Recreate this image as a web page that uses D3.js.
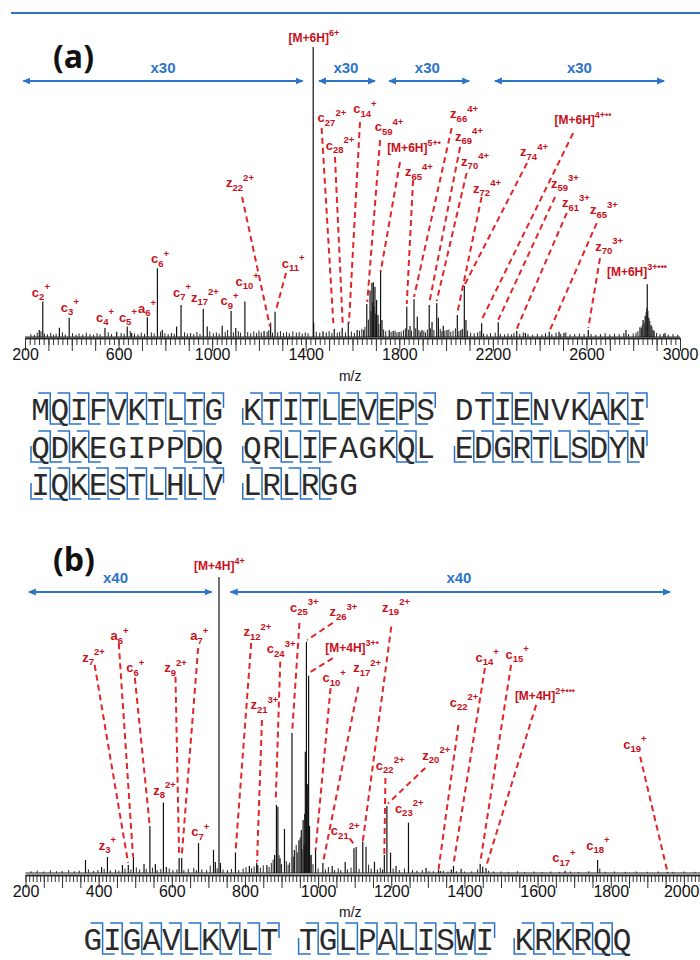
<!DOCTYPE html>
<html><head><meta charset="utf-8">
<script src="https://cdn.jsdelivr.net/npm/d3@7"></script>
<style>body{margin:0;background:#fff}svg{display:block}</style>
</head><body>
<svg id="chart" width="700" height="960"></svg>
<script>
// ---------------- DATA ----------------
// Panel (a): labelled / main peaks [m/z, relative intensity %]
const topPeaks = [[261,2.4],[276,12.2],[347,3.2],[389,6.6],[542,3.1],[592,1.8],[637,3.6],[656,1.4],[723,6.8],[766,23.7],[787,2.4],[848,3.6],[867,11],[962,9.7],[979,3.6],[1043,3.9],[1081,9],[1101,3.1],[1140,12.2],[1222,2.1],[1250,4.9],[1269,8.7],[1432,100],[1434,4.9],[1474,2.0],[1522,2.8],[1556,3.2],[1582,5.3],[1620,2.4],[1648,2.4],[1661,11.4],[1675,16],[1683,18.6],[1689,18.9],[1696,17.3],[1703,12.8],[1709,7.6],[1720,23.1],[1726,5.9],[1757,2.4],[1774,2.1],[1799,1.7],[1832,10.4],[1846,3.8],[1863,13],[1877,7],[1897,2.4],[1928,11],[1940,5.2],[1960,11.6],[1967,6.6],[1988,3.9],[2004,2.4],[2048,7.6],[2063,2.4],[2078,17.6],[2085,5.9],[2152,4.7],[2223,5.1],[2302,2.1],[2339,1.4],[2441,1.8],[2483,1.8],[2504,1.4],[2608,2.4],[2769,2.4],[2829,3.4],[2842,5.9],[2851,7.2],[2860,18.2],[2867,6.6],[2876,4.1],[2885,2.4],[2936,1.4]];
// Panel (a): minor peaks / noise
const topMinor = [[225,1.0],[240,0.8],[252,1.5],[268,2.0],[283,1.2],[296,0.9],[310,1.4],[322,0.8],[333,1.1],[360,1.6],[372,0.9],[403,1.3],[418,0.8],[431,1.2],[447,0.9],[462,1.5],[478,1.0],[493,0.8],[508,1.3],[521,1.0],[556,1.6],[570,1.0],[611,1.4],[624,1.1],[650,2.1],[668,1.2],[683,0.9],[697,1.5],[711,1.1],[740,1.6],[752,1.2],[779,1.8],[798,1.3],[812,1.0],[826,1.4],[838,1.1],[882,1.6],[894,1.2],[908,1.4],[921,1.0],[935,1.7],[948,1.1],[990,1.9],[1005,1.3],[1018,1.6],[1030,1.2],[1056,1.8],[1066,2.4],[1091,1.6],[1112,2.0],[1121,1.5],[1152,1.7],[1165,1.3],[1178,1.9],[1190,1.4],[1200,2.2],[1210,1.6],[1235,1.8],[1242,2.4],[1258,1.5],[1280,1.6],[1292,2.0],[1305,1.4],[1318,1.8],[1330,1.3],[1345,1.9],[1360,1.5],[1372,1.7],[1385,1.2],[1398,1.6],[1410,1.3],[1445,1.8],[1460,1.5],[1488,1.6],[1500,2.0],[1512,1.3],[1535,1.5],[1545,1.8],[1570,1.6],[1595,1.9],[1608,1.4],[1630,2.2],[1640,2.8],[1653,3.5],[1668,6.0],[1679,9.0],[1686,12.0],[1692,10.5],[1699,8.0],[1713,4.5],[1733,2.6],[1742,2.0],[1765,1.8],[1782,2.2],[1790,1.6],[1808,1.9],[1818,2.4],[1826,3.0],[1840,2.5],[1852,2.2],[1870,3.0],[1884,2.4],[1890,1.8],[1905,2.1],[1912,1.5],[1920,2.6],[1934,3.0],[1948,2.4],[1975,2.8],[1982,2.0],[1995,2.2],[2012,2.6],[2020,1.8],[2030,2.2],[2040,3.0],[2055,2.0],[2070,2.8],[2092,2.2],[2105,1.5],[2120,1.3],[2135,1.6],[2145,2.0],[2160,1.2],[2175,1.0],[2190,1.3],[2210,1.5],[2232,1.1],[2250,0.9],[2265,1.2],[2280,0.9],[2290,1.4],[2315,1.1],[2330,1.6],[2350,1.0],[2370,0.8],[2390,1.1],[2410,0.9],[2425,1.3],[2452,1.0],[2470,1.5],[2490,1.1],[2512,1.6],[2530,0.9],[2550,1.0],[2570,1.2],[2590,1.0],[2620,1.1],[2640,0.8],[2660,1.0],[2680,1.3],[2700,0.9],[2720,1.1],[2740,1.0],[2760,1.4],[2780,1.0],[2800,1.2],[2812,1.5],[2820,2.0],[2835,3.0],[2838,4.0],[2847,5.0],[2855,8.5],[2858,10],[2863,9],[2871,5.5],[2880,3.5],[2890,2.0],[2900,1.4],[2915,1.0],[2930,1.1],[2950,0.8],[2970,1.0],[2990,0.8]];
// Panel (a) annotations: [ion, subscript, superscript, label m/z, label level, line-from m/z, level, line-to m/z, level]
const topLabels = [
 ['c','2','+',268,13.8],['c','3','+',392,8.7],['c','4','+',542,5.3],['c','5','+',640,5.2],
 ['a','6','+',722,8.3],['c','6','+',777,25.5],['c','7','+',871,13.8],['z','17','2+',969,12.1],
 ['c','9','+',1074,11],['c','10','+',1150,17.6],
 ['c','11','+',1346,23.8,1316,22.1,1273,9.3],
 ['z','22','2+',1119,51.7,1128,48.3,1247,3.6],
 ['[M+6H]','','6+',1435,101.7],
 ['c','27','2+',1512,74.1,1468,72.1,1518,4.8],
 ['c','28','2+',1547,64.5,1525,62.1,1558,4.8],
 ['c','14','+',1653,77.2,1632,74.1,1585,4.8],
 ['c','59','4+',1756,71,1718,67.9,1663,12.1],
 ['[M+6H]','','5+•',1863,63.8,1803,60.3,1720,22.4],
 ['z','65','4+',1884,55.5,1859,54.1,1832,11.4],
 ['z','66','4+',2077,75.5,2024,72.1,1863,13.8],
 ['z','69','4+',2098,67.6,2060,65.5,1928,11.7],
 ['z','70','4+',2124,59,2088,56.6,1960,12.4],
 ['z','72','4+',2175,49.7,2152,48.3,2048,8.3],
 ['z','74','4+',2376,62.4,2346,60,2081,18.3],
 ['[M+6H]','','4+••',2585,73.4,2543,70.3,2152,5.9],
 ['z','59','3+',2508,51.4,2466,48.3,2223,5.9],
 ['z','61','3+',2555,44.8,2516,42.8,2302,2.8],
 ['z','65','3+',2675,42.4,2644,39.3,2444,2.4],
 ['z','70','3+',2697,29.7,2658,27.2,2608,3.1],
 ['[M+6H]','','3+•••',2816,21]
];
// Panel (a) magnification ranges [from m/z, to m/z, label m/z, text]
const topZoom = [[193,1387,790,'x30'],[1457,1696,1572,'x30'],[1757,2099,1920,'x30'],[2209,2932,2570,'x30']];
const topTickLabels = [200,600,1000,1400,1800,2200,2600,3000];

// Panel (b)
const botPeaks = [[364,4.4],[408,2],[424,5.4],[465,2.7],[481,2.7],[495,5.4],[524,3],[540,15.9],[555,3],[577,23.8],[585,2],[620,5.1],[627,5.1],[673,10.1],[714,7.8],[719,3.7],[729,100],[733,3.4],[774,6.8],[812,2.4],[832,3.5],[835,2.7],[860,2.7],[881,6.1],[886,23],[890,22.4],[896,5],[908,14.9],[928.5,47.3],[935,7.8],[947.5,11.1],[954,14.5],[959,17.9],[962,9.5],[965,41],[968,78.1],[974,66.6],[976.5,15.9],[981,6.1],[993,8.4],[1013,3.4],[1038.5,2.4],[1074,3.7],[1098,8.4],[1104,8.8],[1122,10.6],[1131,8.9],[1154,3.8],[1181,6.1],[1188,22.6],[1198,6.9],[1213,2.4],[1247,17],[1295,1.7],[1329,1],[1334,0.7],[1364,1.2],[1370,2.4],[1391,1.4],[1443,3],[1450,2.1],[1459,1.7],[1675,0.8],[1764,4.4],[1955,0.4]];
const botMinor = [[215,0.6],[232,0.8],[250,0.5],[268,0.9],[285,0.6],[300,0.7],[318,1.0],[333,0.6],[347,0.8],[372,1.2],[386,0.7],[398,1.0],[415,1.4],[432,0.9],[446,1.1],[455,0.8],[472,1.5],[488,1.2],[503,1.9],[512,1.2],[530,1.4],[547,1.8],[560,1.0],[570,1.3],[593,1.5],[603,1.0],[614,1.2],[633,1.0],[645,1.4],[660,1.8],[667,1.0],[682,1.2],[695,1.0],[705,2.5],[724,1.6],[740,1.2],[752,1.0],[763,1.4],[783,1.0],[795,1.5],[803,2.0],[818,1.6],[825,2.2],[842,1.8],[850,2.6],[866,2.0],[872,3.4],[877,4.5],[893,6.0],[900,3.0],[913,4.0],[918,2.8],[922,3.5],[932,5.5],[940,9.5],[943,7.0],[951,12.0],[956,8.0],[963,20],[971,30],[978,6.0],[986,3.0],[1000,1.5],[1020,1.2],[1028,2.0],[1045,1.0],[1055,1.6],[1062,1.0],[1080,1.2],[1090,1.8],[1112,1.4],[1138,2.8],[1145,1.5],[1162,1.2],[1170,1.8],[1176,1.2],[1205,1.5],[1222,1.0],[1236,1.5],[1258,1.0],[1270,0.8],[1285,1.0],[1303,0.7],[1315,0.6],[1342,0.8],[1355,0.5],[1378,0.6],[1400,0.5],[1420,0.6],[1436,1.2],[1466,0.8],[1480,0.5],[1500,0.5],[1520,0.4],[1545,0.6],[1565,0.4],[1590,0.5],[1612,0.4],[1636,0.5],[1660,0.4],[1690,0.5],[1712,0.4],[1740,0.6],[1770,1.5],[1785,0.4],[1810,0.5],[1840,0.4],[1870,0.5],[1900,0.4],[1930,0.5],[1970,0.4],[2000,0.5],[2030,0.4]];
const botLabels = [
 ['[M+4H]','','4+',730,102.4],
 ['z','7','2+',386,71.3,389,70.3,480.5,3.4],
 ['a','6','+',457,78.7,455,77.6,494,5.5],
 ['c','6','+',500,67.9,499,65.9,539.5,16.2],
 ['z','9','2+',610,67.9,610,66.3,620,5.5],
 ['a','7','+',675,78.7,672,76,627,5.5],
 ['z','12','2+',834,80,817,77.7,774,6.8],
 ['c','24','3+',899,74.3,896.5,71.4,884,24.1],
 ['z','21','3+',853,55.4,846.5,51.7,833,3.8],
 ['c','25','3+',962,88.2,949,84.5,929,47.7],
 ['z','26','3+',1069,86.8,1040,84.5,970,78.7],
 ['[M+4H]','','3+•',1093,74.7,1040,72.6,974,67.5],
 ['c','10','+',1044,64.5,1034,62.5,993,7.8],
 ['z','17','2+',1134,67.9,1110,62.9,1013,3.3],
 ['z','19','2+',1213,88.2,1200,83.2,1122,10.6],
 ['c','21','2+',1074,12.8,1086,11.7,1099.5,9.5],
 ['c','22','2+',1197,34.8,1184,32.1,1181,6.4],
 ['z','20','2+',1323,38.2,1293,35.5,1191,23.5],
 ['c','23','2+',1249,20.3],
 ['c','22','2+',1399,56.1,1383.5,50,1329,1],
 ['c','14','+',1462,71.3,1456,69.3,1370,3],
 ['c','15','+',1544,72.3,1527.5,70.3,1443,3.4],
 ['[M+4H]','','2+•••',1620,58.4,1596,56.8,1459,2.1],
 ['c','19','+',1866,41.9,1880.5,39.3,1955,0.4],
 ['c','17','+',1672,3.7],['c','18','+',1765,7.8],
 ['z','3','+',424,7.8],['z','8','2+',580,26.4],['c','7','+',678,12.5]
];
const botZoom = [[209,709,446,'x40'],[761,1962,1385,'x40']];
const botTickLabels = [200,400,600,800,1000,1200,1400,1600,1800,2000];

// Sequences and observed cleavage sites (bond after residue n)
const seqA = "MQIFVKTLTGKTITLEVEPSDTIENVKAKIQDKEGIPPDQQRLIFAGKQLEDGRTLSDYNIQKESTLHLVLRLRGG";
const cSitesA = [1,2,3,4,5,6,7,8,9,10,11,12,13,14,15,16,17,18,19,20,22,23,24,27,28,29,30,31,32,33,38,39,42,43,44,48,49,51,52,53,54,55,56,57,58,59,60,61,62,63,64,65,66,67,68,69,70,71,72,73,74];
const zSitesA = [1,2,3,4,5,6,7,8,9,10,11,12,13,14,15,16,17,18,19,22,23,24,27,28,29,30,31,32,33,38,39,40,42,43,44,48,49,50,51,52,53,54,55,56,57,58,59,60,61,62,63,64,65,66,67,68,69,70,71,72,73,74];
const seqB = "GIGAVLKVLTTGLPALISWIKRKRQQ";
const cSitesB = [1,2,3,4,5,6,7,8,9,10,11,12,13,14,15,16,17,18,19,20,21,22,23,24,25];
const zSitesB = [1,2,3,4,5,6,7,8,9,10,11,12,13,14,15,16,17,18,19,20,21,22,23,24,25];

// ---------------- DRAWING ----------------
const svg = d3.select('#chart');
const RED = '#c8101a', DASH = '#e0262b', BLUE = '#2c74c8';
const SANS = '"Liberation Sans", Arial, sans-serif';

const defs = svg.append('defs');
defs.append('marker').attr('id','ah').attr('viewBox','0 -4 8 8').attr('refX',7).attr('refY',0)
  .attr('markerWidth',4).attr('markerHeight',4).attr('orient','auto-start-reverse').attr('markerUnits','strokeWidth')
  .append('path').attr('d','M0,-3.5L8,0L0,3.5Z').attr('fill',BLUE);

svg.append('line').attr('x1',11).attr('x2',700).attr('y1',13).attr('y2',13).attr('stroke',BLUE).attr('stroke-width',2);

function panel(cfg){
  const x = d3.scaleLinear().domain(cfg.domain).range(cfg.range);
  const y = d3.scaleLinear().domain([0,100]).range([cfg.base, cfg.top]);
  const g = svg.append('g');

  g.append('text').attr('x',cfg.tagX).attr('y',cfg.tagY).text(cfg.tag)
   .attr('font-family','"Open Sans", sans-serif').attr('font-weight',700).attr('font-size',32).attr('fill','#111');

  cfg.zoom.forEach(z=>{
    g.append('line').attr('x1',x(z[0])).attr('x2',x(z[1])).attr('y1',cfg.arrowY).attr('y2',cfg.arrowY)
     .attr('stroke',BLUE).attr('stroke-width',2).attr('marker-start','url(#ah)').attr('marker-end','url(#ah)');
    g.append('text').attr('x',x(z[2])).attr('y',cfg.arrowLabelY).attr('text-anchor','middle').text(z[3])
     .attr('font-family',SANS).attr('font-weight',700).attr('font-size',15).attr('fill',BLUE);
  });

  g.append('line').attr('x1',cfg.range[0]).attr('x2',cfg.range[1]).attr('y1',y(0)).attr('y2',y(0)).attr('stroke','#222').attr('stroke-width',1);
  g.selectAll('line.minor').data(cfg.minor).join('line').attr('class','minor')
   .attr('x1',d=>x(d[0])).attr('x2',d=>x(d[0])).attr('y1',y(0)).attr('y2',d=>y(d[1]))
   .attr('stroke','#222').attr('stroke-width',1);
  g.selectAll('line.pk').data(cfg.peaks).join('line').attr('class','pk')
   .attr('x1',d=>x(d[0])).attr('x2',d=>x(d[0])).attr('y1',y(0)).attr('y2',d=>y(d[1]))
   .attr('stroke','#111').attr('stroke-width',1.2);

  const minorVals = d3.range(cfg.domain[0], cfg.domain[1]+0.01, cfg.minorStep);
  const majorVals = d3.range(cfg.domain[0], cfg.domain[1]+0.01, cfg.majorStep);
  const ay = cfg.axisY;
  const a1 = g.append('g').attr('transform',`translate(0,${ay})`)
    .call(d3.axisBottom(x).tickValues(minorVals).tickSize(7).tickSizeOuter(0).tickFormat(''));
  const a2 = g.append('g').attr('transform',`translate(0,${ay})`)
    .call(d3.axisBottom(x).tickValues(majorVals).tickSize(13).tickSizeOuter(0)
      .tickFormat(v => cfg.tickLabels.includes(v) ? String(v) : ''));
  [a1,a2].forEach(a=>{
    a.select('.domain').attr('stroke','#222').attr('stroke-width',1.6);
    a.selectAll('.tick line').attr('stroke','#333').attr('stroke-width',1);
  });
  a1.selectAll('text').remove();
  const tooWide = v => x(v) + 18 > 700;
  a2.selectAll('.tick text').attr('y',cfg.tickTextDy).attr('dy',0).attr('font-family',SANS).attr('font-size',16).attr('fill','#111')
    .attr('text-anchor', v => tooWide(v) ? 'end' : 'middle')
    .attr('x', v => tooWide(v) ? 699 - x(v) : 0);
  g.append('text').attr('x',x(cfg.mzAt)).attr('y',cfg.mzY).attr('text-anchor','middle').text('m/z')
   .attr('font-family',SANS).attr('font-size',14).attr('fill','#111');

  cfg.labels.forEach(d=>{
    if (d.length > 5){
      g.append('line').attr('x1',x(d[5])).attr('y1',y(d[6])).attr('x2',x(d[7])).attr('y2',y(d[8]))
       .attr('stroke',DASH).attr('stroke-width',2).attr('stroke-dasharray','6,4');
    }
    const t = g.append('text').attr('x',x(d[3])).attr('y',y(d[4])).attr('text-anchor','middle')
      .attr('font-family',SANS).attr('font-weight',700).attr('fill',RED);
    const isM = d[0].startsWith('[');
    t.append('tspan').text(d[0]).attr('font-size', isM ? 12 : 13);
    if (d[1]) {
      t.append('tspan').text(d[1]).attr('font-size',9.5).attr('dy',3.5);
      t.append('tspan').text(d[2]).attr('font-size',9.5).attr('dy',-10);
    } else {
      t.append('tspan').text(d[2]).attr('font-size',9).attr('dy',-6);
    }
  });
}

panel({domain:[200,3000], range:[25,680], base:337, top:47, axisY:338,
  peaks:topPeaks, minor:topMinor, labels:topLabels, zoom:topZoom, tickLabels:topTickLabels,
  minorStep:20, majorStep:100, tickTextDy:22, mzAt:1590, mzY:381,
  tag:'(a)', tagX:53, tagY:68, arrowY:81, arrowLabelY:73});

panel({domain:[200,2044], range:[25.5,700], base:873, top:577, axisY:875,
  peaks:botPeaks, minor:botMinor, labels:botLabels, zoom:botZoom, tickLabels:botTickLabels,
  minorStep:10, majorStep:50, tickTextDy:22, mzAt:1088, mzY:917,
  tag:'(b)', tagX:53, tagY:571, arrowY:592, arrowLabelY:583});

function drawSeq(seq, cSites, zSites, x0, step, baselines){
  const g = svg.append('g');
  const pos = i => { const row = Math.floor(i/30), col = i%30; return {row, u: col + Math.floor(col/10)}; };
  g.selectAll('text').data(seq.split('')).join('text')
    .attr('x',(c,i)=>x0+(pos(i).u+0.5)*step).attr('y',(c,i)=>baselines[pos(i).row])
    .attr('text-anchor','middle').text(c=>c)
    .attr('font-family','"Liberation Mono", "DejaVu Sans Mono", monospace').attr('font-size',31).attr('fill','#2a2a2a');
  const hw = step*0.62;
  g.selectAll('path.c').data(cSites).join('path').attr('class','c')
    .attr('d',k=>{ const p=pos(k-1), xr=x0+(p.u+1)*step, yb=baselines[p.row];
      return `M${xr-hw},${yb-27}H${xr}V${yb-12}`; })
    .attr('fill','none').attr('stroke',BLUE).attr('stroke-width',1.5);
  g.selectAll('path.z').data(zSites).join('path').attr('class','z')
    .attr('d',k=>{ const p=pos(k), xl=x0+p.u*step, yb=baselines[p.row];
      return `M${xl},${yb-12}V${yb+4}H${xl+hw}`; })
    .attr('fill','none').attr('stroke',BLUE).attr('stroke-width',1.5);
}
drawSeq(seqA, cSitesA, zSitesA, 31, 19.25, [420,458,495]);
drawSeq(seqB, cSitesB, zSitesB, 83, 19.6, [950]);
</script>
</body></html>
